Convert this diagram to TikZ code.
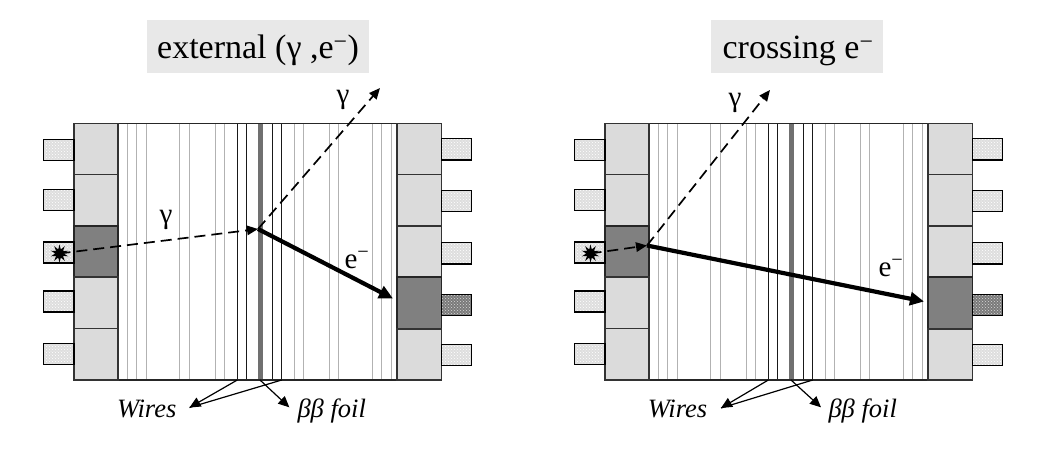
\documentclass[tikz,border=0pt]{standalone}
\usepackage{fontspec}
\setmainfont{Liberation Serif}
\usetikzlibrary{arrows.meta,shapes.geometric,patterns}
\tikzset{
  x=1pt,y=-1pt,
  block/.style={draw=black!80,line width=1.1pt,fill=black!14},
  hitblock/.style={draw=black!85,line width=1.1pt,fill=black!50},
  pmt/.style={draw=black,line width=1.1pt,preaction={fill=black!13},pattern=crosshatch dots,pattern color=white},
  hitpmt/.style={draw=black,line width=1.1pt,preaction={fill=black!52},pattern=crosshatch dots,pattern color=black!15},
  wire/.style={draw=black!30,line width=0.75pt},
  innerwire/.style={draw=black!90,line width=0.85pt},
  foil/.style={draw=black!56,line width=5pt},
  frame/.style={draw=black!85,line width=1.2pt},
  photon/.style={draw=black,line width=1.7pt,dash pattern=on 11pt off 6pt,-{Triangle[length=11pt,width=9.5pt]}},
  electron/.style={draw=black,line width=4.2pt,-{Triangle[length=14pt,width=13pt]}},
  pointer/.style={draw=black,line width=1.2pt},
  pointerhead/.style={draw=black,line width=1.2pt,-{Triangle[length=11pt,width=10pt]}},
  heading/.style={fill=black!9,inner sep=0pt},
  headtext/.style={font=\fontsize{34}{40}\selectfont,inner sep=0pt,anchor=base},
  lab/.style={font=\fontsize{29}{32}\selectfont,inner sep=0pt},
  caption/.style={font=\fontsize{26.5}{30}\selectfont\itshape,inner sep=0pt,anchor=base},
  source/.style={star,star points=10,star point ratio=2.1,fill=black,inner sep=0pt,minimum size=18pt}
}
% One detector module: tracking volume, wires, foil, calorimeter blocks and PMTs.
% #1 = horizontal offset, #2 = row of the lit right-hand block (0 for the top row)
\newcommand{\module}[2]{
  \begin{scope}[xshift=#1pt]
    \foreach \wx in {127.3,136.3,146.3,179.3,189.3,215.3,224.3,294.3,303.3,329.3,338.3,372.3,381.3,391.3}
      \draw[wire] (\wx,123.5) -- (\wx,380);
    \foreach \wx in {237.3,246.3,272.7,281.7}
      \draw[innerwire] (\wx,123.5) -- (\wx,380);
    \draw[foil] (260,123.5) -- (260,380);
    \draw[frame] (118,123.5) -- (397,123.5) (118,380) -- (397,380);
    \foreach \row/\ya/\yb/\pa/\pb in {0/123.5/174.5/139.5/160.5,1/174.5/226/189.5/210.5,2/226/277/242/263,3/277/328.5/291/312,4/328.5/380/343.5/364.5}{
      \ifnum\row=2
        \draw[hitblock] (74,\ya) rectangle (118,\yb);
      \else
        \draw[block] (74,\ya) rectangle (118,\yb);
      \fi
      \draw[pmt] (43.5,\pa) rectangle (74,\pb);
    }
    \foreach \row/\ya/\yb/\pa/\pb in {0/123.5/174.5/138.5/160,1/174.5/226/190.5/211.5,2/226/277/242.5/264,3/277/329/294.5/315.5,4/329/380/344.5/365.5}{
      \ifnum\row=#2
        \draw[hitblock] (397,\ya) rectangle (441.5,\yb);
        \draw[hitpmt] (441.5,\pa) rectangle (471.5,\pb);
      \else
        \draw[block] (397,\ya) rectangle (441.5,\yb);
        \draw[pmt] (441.5,\pa) rectangle (471.5,\pb);
      \fi
    }
  \end{scope}
}
\begin{document}
\begin{tikzpicture}
\useasboundingbox (0,0) rectangle (1043,456);
\fill[white] (0,0) rectangle (1043,456);

\module{0}{3}
\module{531}{3}

% External gamma event
\node[heading,minimum width=221.5pt,minimum height=52.5pt] (boxA) at (257.8,46.3) {};
\node[headtext] (titleA) at (258,58.5) {external (γ ,e\textsuperscript{−})};
\node[source] (srcA) at (59.5,253.5) {};
\coordinate (vtxA) at (258,229);
\coordinate (gamA) at (380,88);
\coordinate (eA) at (393,298.5);
\draw[photon] (srcA.center) -- (vtxA);
\draw[photon] (vtxA) -- (gamA);
\draw[electron] (vtxA) -- (eA);
\node[lab] (gammaA1) at (166,220) {γ};
\node[lab] (gammaA2) at (343,100) {γ};
\node[lab] (elecA) at (357,260) {e\textsuperscript{−}};
\node[caption] (wiresA) at (146.7,417.5) {Wires};
\node[caption] (foilA) at (331.7,417.5) {ββ foil};
\coordinate (tickA1) at (237.3,380);
\coordinate (tickA2) at (281.7,380);
\coordinate (tickA3) at (260,380);
\coordinate (meetA) at (189.5,407.5);
\coordinate (tipA) at (289.3,407.3);
\draw[pointerhead] (tickA1) -- (meetA);
\draw[pointer] (tickA2) -- (meetA);
\draw[pointerhead] (tickA3) -- (tipA);

% Crossing electron event
\node[heading,minimum width=172pt,minimum height=52.5pt] (boxB) at (797,46.3) {};
\node[headtext] (titleB) at (798,58.5) {crossing e\textsuperscript{−}};
\node[source] (srcB) at (590.5,253.5) {};
\coordinate (vtxB) at (647,245.5);
\coordinate (gamB) at (770,90);
\coordinate (eB) at (924,301.5);
\draw[photon] (srcB.center) -- (vtxB);
\draw[photon] (vtxB) -- (gamB);
\draw[electron] (vtxB) -- (eB);
\node[lab] (gammaB) at (735,103) {γ};
\node[lab] (elecB) at (891,268) {e\textsuperscript{−}};
\node[caption] (wiresB) at (677.5,417.5) {Wires};
\node[caption] (foilB) at (862.7,417.5) {ββ foil};
\coordinate (tickB1) at (768.3,380);
\coordinate (tickB2) at (812.7,380);
\coordinate (tickB3) at (791,380);
\coordinate (meetB) at (721,408);
\coordinate (tipB) at (821,407.3);
\draw[pointerhead] (tickB1) -- (meetB);
\draw[pointer] (tickB2) -- (meetB);
\draw[pointerhead] (tickB3) -- (tipB);
\end{tikzpicture}
\end{document}
